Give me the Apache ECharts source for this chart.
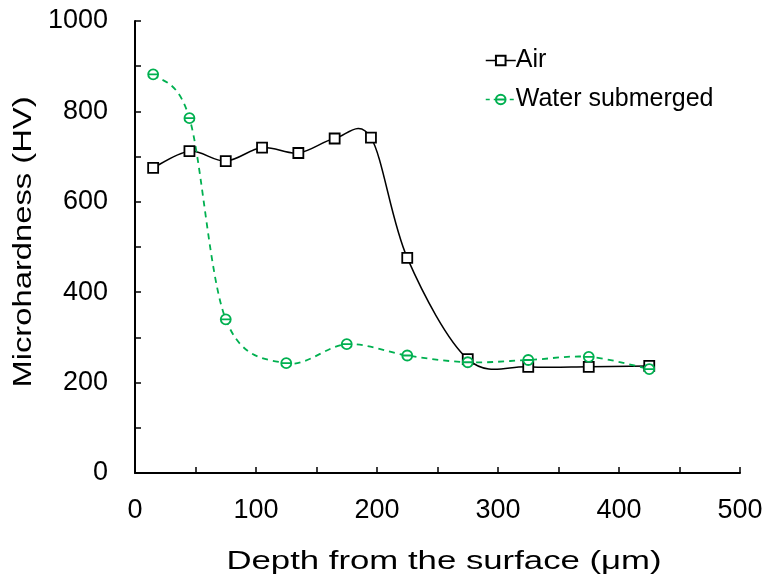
<!DOCTYPE html>
<html><head><meta charset="utf-8">
<script src="https://cdn.jsdelivr.net/npm/echarts@6/dist/echarts.min.js"></script>
<style>html,body{margin:0;padding:0;background:#fff}#c{width:768px;height:578px}</style>
</head><body><div id="c"></div>
<script>
const airDepth = [15, 45, 75, 105, 135, 165, 195, 225, 275, 325, 375, 425];
const airHV = [675, 712, 690, 720, 708, 740, 742, 476, 252, 235, 235, 237];
const waterDepth = [15, 45, 75, 125, 175, 225, 275, 325, 375, 425];
const waterHV = [882, 785, 340, 243, 285, 260, 245, 250, 257, 230];
const seriesNames = ['Air', 'Water submerged'];
const xTitle = 'Depth from the surface (μm)';
const yTitle = 'Microhardness (HV)';

const pair = (xs, ys) => xs.map((x, i) => [x, ys[i]]);
const green = '#00b050';
const circSym = 'path://M0,5A5,5 0 1,1 10,5A5,5 0 1,1 0,5ZM0,5L10,5';
const font = 'Liberation Sans, Arial, sans-serif';

// Smooth curve (Catmull-Rom style bezier) through points mapped by the axis scales
function smoothCurve(xs, ys, style) {
  return function (params, api) {
    const p = xs.map((x, i) => api.coord([x, ys[i]]));
    const n = p.length;
    let d = 'M' + p[0][0] + ',' + p[0][1];
    for (let i = 0; i < n - 1; i++) {
      const p0 = p[Math.max(i - 1, 0)], p1 = p[i], p2 = p[i + 1], p3 = p[Math.min(i + 2, n - 1)];
      const c1 = [p1[0] + (p2[0] - p0[0]) / 6, p1[1] + (p2[1] - p0[1]) / 6];
      const c2 = [p2[0] - (p3[0] - p1[0]) / 6, p2[1] - (p3[1] - p1[1]) / 6];
      d += 'C' + c1[0] + ',' + c1[1] + ' ' + c2[0] + ',' + c2[1] + ' ' + p2[0] + ',' + p2[1];
    }
    return {type: 'path', shape: {pathData: d}, style: Object.assign({fill: null}, style)};
  };
}

const chart = echarts.init(document.getElementById('c'));
chart.setOption({
  animation: false,
  backgroundColor: '#fff',
  grid: {left: 135, right: 28, top: 21, bottom: 105},
  legend: {
    orient: 'vertical', left: 480, top: 43, itemGap: 14,
    itemWidth: 30, itemHeight: 12,
    textStyle: {fontFamily: font, fontSize: 25, color: '#000', padding: [0, 0, 0, -5]},
    data: [
      {name: seriesNames[0], lineStyle: {color: '#000', width: 1.5, opacity: 1, type: 'solid'}},
      {name: seriesNames[1], lineStyle: {color: green, width: 1.5, opacity: 1, type: [4, 4]}}
    ]
  },
  graphic: [
    {type: 'text', x: 444, y: 562, scaleX: 1.39,
     style: {text: xTitle, font: '25px ' + font, fill: '#000', align: 'center', verticalAlign: 'middle', textAlign: 'center', textVerticalAlign: 'middle'}},
    {type: 'text', x: 24, y: 242, rotation: Math.PI / 2, scaleX: 1.31,
     style: {text: yTitle, font: '25px ' + font, fill: '#000', align: 'center', verticalAlign: 'middle', textAlign: 'center', textVerticalAlign: 'middle'}}
  ],
  xAxis: {
    type: 'value', min: 0, max: 500, interval: 100,
    axisLine: {lineStyle: {color: '#000', width: 2}},
    axisTick: {inside: true, length: 6, lineStyle: {color: '#000', width: 1.5}},
    minorTick: {show: true, splitNumber: 2, length: 6, lineStyle: {color: '#000', width: 1.5}},
    axisLabel: {fontFamily: font, fontSize: 27, color: '#000', margin: 24},
    splitLine: {show: false}
  },
  yAxis: {
    type: 'value', min: 0, max: 1000, interval: 200,
    axisLine: {show: true, lineStyle: {color: '#000', width: 2}},
    axisTick: {show: true, inside: true, length: 6, lineStyle: {color: '#000', width: 1.5}},
    minorTick: {show: true, splitNumber: 2, length: 6, lineStyle: {color: '#000', width: 1.5}},
    axisLabel: {fontFamily: font, fontSize: 27, color: '#000', margin: 27, formatter: v => String(v)},
    splitLine: {show: false}
  },
  series: [
    {
      name: 'Air curve', type: 'custom', z: 1, silent: true, data: [[0, 0]],
      renderItem: smoothCurve(airDepth, airHV, {stroke: '#000', lineWidth: 1.5})
    },
    {
      name: 'Water curve', type: 'custom', z: 1, silent: true, data: [[0, 0]],
      renderItem: smoothCurve(waterDepth, waterHV, {stroke: green, lineWidth: 1.8, lineDash: [6, 5]})
    },
    {
      name: seriesNames[0], type: 'line', z: 3,
      data: pair(airDepth, airHV),
      symbol: 'rect', symbolSize: 10,
      lineStyle: {width: 0, opacity: 0},
      itemStyle: {color: '#fff', borderColor: '#000', borderWidth: 1.8}
    },
    {
      name: seriesNames[1], type: 'line', z: 3,
      data: pair(waterDepth, waterHV),
      symbol: circSym, symbolSize: 10,
      lineStyle: {width: 0, opacity: 0},
      itemStyle: {color: '#fff', borderColor: green, borderWidth: 1.8}
    }
  ]
});
</script></body></html>
